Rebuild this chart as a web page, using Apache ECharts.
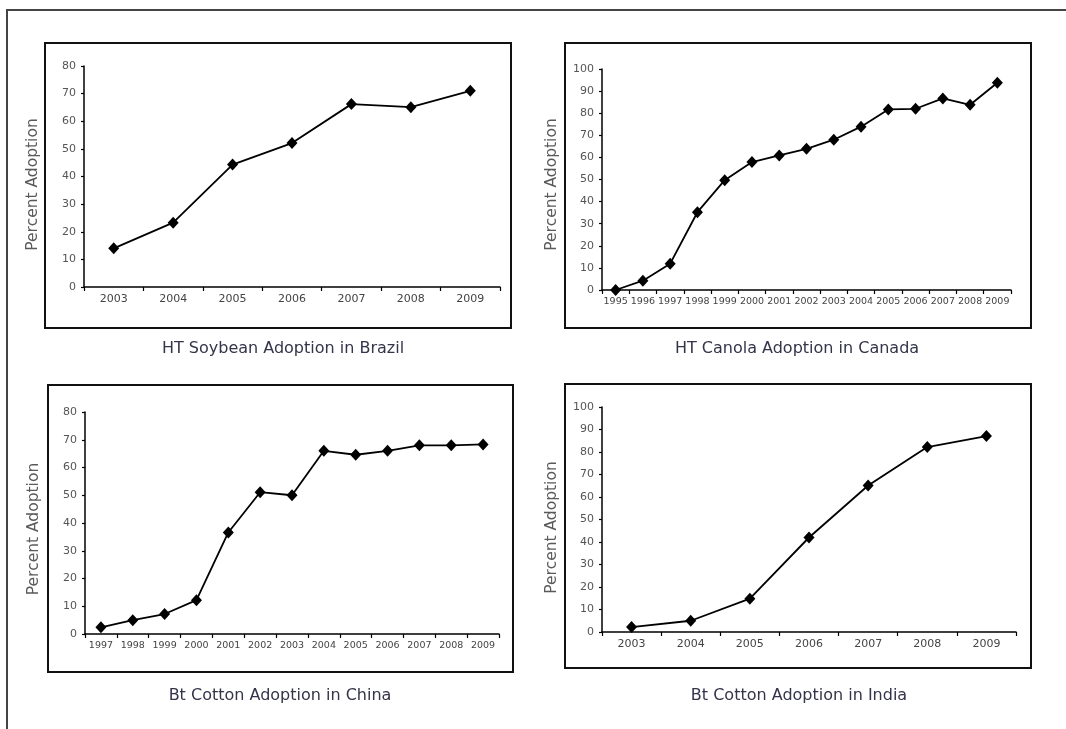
<!DOCTYPE html>
<html>
<head>
<meta charset="utf-8">
<script src="https://cdn.jsdelivr.net/npm/echarts@6/dist/echarts.min.js"></script>
<style>
  html, body { margin: 0; padding: 0; background: #fff; }
  #main { width: 1066px; height: 729px; }
</style>
</head>
<body>
<div id="main"></div>
<script>
// 数据
var brazilYears = ['2003', '2004', '2005', '2006', '2007', '2008', '2009'];
var brazilValues = [14, 23.3, 44.3, 52.1, 66.2, 65.1, 71];

var canadaYears = ['1995', '1996', '1997', '1998', '1999', '2000', '2001', '2002', '2003', '2004', '2005', '2006', '2007', '2008', '2009'];
var canadaValues = [0, 4.2, 11.9, 35.2, 49.7, 57.9, 60.9, 63.9, 68, 73.9, 81.7, 82, 86.7, 83.8, 93.8];

var chinaYears = ['1997', '1998', '1999', '2000', '2001', '2002', '2003', '2004', '2005', '2006', '2007', '2008', '2009'];
var chinaValues = [2.4, 5, 7.2, 12.2, 36.6, 51.1, 50, 66, 64.6, 66, 68, 68, 68.3];

var indiaYears = ['2003', '2004', '2005', '2006', '2007', '2008', '2009'];
var indiaValues = [2.2, 5, 14.8, 42, 65.1, 82.2, 87.1];

var panelTitles = ['HT Soybean Adoption in Brazil', 'HT Canola Adoption in Canada', 'Bt Cotton Adoption in China', 'Bt Cotton Adoption in India'];
var yName = 'Percent Adoption';

var fontFam = '"DejaVu Sans", sans-serif';
var textColor = '#34344a';

var grids = [
    { left: 84, top: 66, width: 416, height: 221 },
    { left: 602, top: 69, width: 409, height: 221 },
    { left: 85, top: 412, width: 414, height: 222 },
    { left: 602, top: 407, width: 414, height: 225 }
];

function makeX(idx, data, fs) {
    return {
        type: 'category',
        gridIndex: idx,
        data: data,
        boundaryGap: true,
        axisLine: { lineStyle: { color: '#000', width: 1.5 } },
        axisTick: { show: true, interval: 0, length: 4, lineStyle: { color: '#000', width: 1.2 } },
        axisLabel: { interval: 0, fontSize: fs, color: '#444', fontFamily: fontFam, margin: 7 },
        splitLine: { show: false }
    };
}

// shift: 名称向下偏移(像素)
function makeY(idx, max, gap, shift) {
    return {
        type: 'value',
        gridIndex: idx,
        min: 0,
        max: max,
        interval: 10,
        name: yName,
        nameLocation: 'middle',
        nameGap: gap,
        nameTextStyle: { fontSize: 15.5, color: '#5a5a5a', fontFamily: fontFam, padding: [0, shift * 2, 0, 0] },
        axisLine: { show: true, lineStyle: { color: '#000', width: 1.5 } },
        axisTick: { show: true, length: 3, lineStyle: { color: '#000', width: 1.2 } },
        axisLabel: { fontSize: 11, color: '#555', fontFamily: fontFam, margin: 8 },
        splitLine: { show: false }
    };
}

function makeSeries(idx, values) {
    return {
        type: 'line',
        xAxisIndex: idx,
        yAxisIndex: idx,
        data: values,
        symbol: 'diamond',
        symbolSize: [11, 12],
        showAllSymbol: true,
        lineStyle: { color: '#000', width: 1.8 },
        itemStyle: { color: '#000' },
        animation: false
    };
}

var boxes = [
    [45, 43, 466, 285],
    [565, 43, 466, 285],
    [48, 385, 465, 287],
    [565, 384, 466, 284]
];
var titlePos = [[283, 349], [797, 349], [280, 696], [799, 696]];

var graphics = [{
    type: 'rect',
    shape: { x: 7, y: 10, width: 1080, height: 740 },
    style: { fill: 'none', stroke: '#444', lineWidth: 2 }
}];
boxes.forEach(function (b) {
    graphics.push({
        type: 'rect',
        shape: { x: b[0], y: b[1], width: b[2], height: b[3] },
        style: { fill: 'none', stroke: '#111', lineWidth: 2 }
    });
});
titlePos.forEach(function (p, i) {
    graphics.push({
        type: 'text',
        x: p[0],
        y: p[1],
        style: {
            text: panelTitles[i],
            font: '16px ' + fontFam,
            fill: textColor,
            textAlign: 'center',
            textVerticalAlign: 'middle'
        }
    });
});

var chart = echarts.init(document.getElementById('main'));
var option = {
    animation: false,
    backgroundColor: '#fff',
    grid: grids,
    xAxis: [makeX(0, brazilYears, 11), makeX(1, canadaYears, 9.5), makeX(2, chinaYears, 9.5), makeX(3, indiaYears, 11)],
    yAxis: [makeY(0, 80, 43, 8), makeY(1, 100, 42, 5), makeY(2, 80, 43, 6), makeY(3, 100, 42, 8)],
    series: [makeSeries(0, brazilValues), makeSeries(1, canadaValues), makeSeries(2, chinaValues), makeSeries(3, indiaValues)],
    graphic: graphics
};
chart.setOption(option);
</script>
</body>
</html>
